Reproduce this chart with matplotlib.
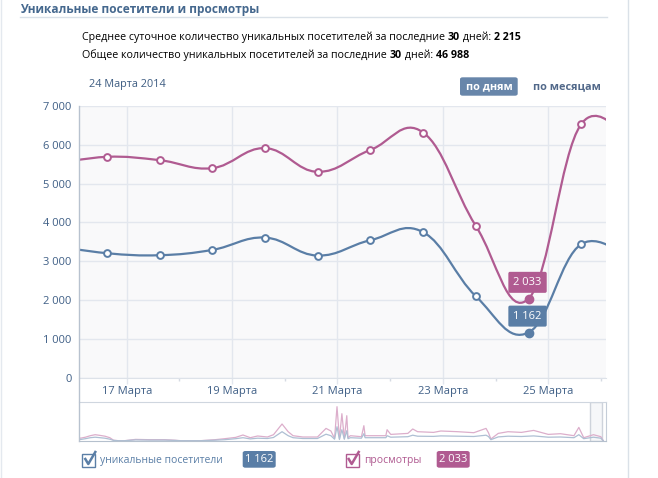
import matplotlib
matplotlib.use("Agg")
import matplotlib.pyplot as plt
from matplotlib.path import Path
from matplotlib.patches import PathPatch, Rectangle, FancyBboxPatch
from matplotlib.lines import Line2D

plt.rcParams['font.family'] = ['Open Sans', 'DejaVu Sans']

# daily points (March 2014), recorded at 15:00
days = [15, 16, 17, 18, 19, 20, 21, 22, 23, 24, 25, 26]
hour = 15
visitors = [3400, 3206, 3154, 3291, 3609, 3145, 3541, 3748, 2097, 1162, 3438, 2900]
views = [5500, 5690, 5604, 5398, 5914, 5303, 5868, 6317, 3910, 2033, 6533, 5800]
hover = 9  # 24 March

yticks = [0, 1000, 2000, 3000, 4000, 5000, 6000, 7000]
ytick_labels = ['0', '1 000', '2 000', '3 000', '4 000', '5 000', '6 000', '7 000']
xticks = [17, 19, 21, 23, 25]
xtick_labels = ['17 Марта', '19 Марта', '21 Марта', '23 Марта', '25 Марта']
view_range = (16.1, 26.09)

# overview (navigator) series, day index from the start of the history
nav_days = [0, 1, 5, 9, 13, 17, 21, 25, 28, 32, 37, 46, 58, 70, 78, 83,
            99, 111, 119, 128, 134, 140, 146, 154, 159, 166, 171, 175, 183, 195, 202, 206,
            209, 211, 213, 215, 217, 219, 220, 222, 231, 233, 234, 251, 252, 255, 269, 273,
            277, 290, 296, 310, 323, 333, 335, 337, 343, 351, 362, 372, 384, 394, 405, 409,
            413, 421, 427, 429]
nav_views = [3000, 2500, 3500, 5000, 6000, 5300, 4500, 3000, 500, 0, 0, 1300, 1000, 1000, 500, 0,
             0, 1000, 2000, 3300, 5700, 3000, 4700, 3700, 6000, 16700, 9000, 5000, 3700, 3700, 12300, 9700,
             2300, 34000, 2000, 27000, 2000, 25000, 3000, 5000, 4000, 15000, 5000, 5000, 11000, 6300, 7300, 11700,
             9000, 8300, 9700, 9000, 8000, 12300, 8000, 1700, 7300, 9000, 8300, 10300, 6300, 7000, 5000, 13300,
             3000, 6000, 4000, 0]
nav_visitors = [1500, 1200, 2000, 3000, 3500, 3000, 2500, 1500, 300, 0, 0, 800, 600, 600, 300, 0,
                0, 500, 1000, 2000, 3000, 1800, 2500, 2200, 3200, 9000, 5000, 3000, 2200, 2200, 6500, 5000,
                1500, 14000, 1200, 11000, 1500, 10000, 2000, 3000, 2500, 7000, 3000, 3000, 5000, 3500, 4000, 5500,
                4500, 4300, 4800, 4500, 4200, 5500, 4200, 1000, 3800, 4500, 4200, 4800, 3500, 3700, 3000, 6000,
                2000, 3500, 2500, 0]
nav_window = (418, 428)

avg_visitors = '2 215'
total_visitors = '46 988'

BLUE = '#5a7ea6'
PINK = '#b05b91'
LINK = '#45688e'
GRID = '#e3e7ee'

W, H = 658, 478


def fx(x):
    return x / W


def fy(y):
    return 1 - y / H


def spline_path(xs, ys, smoothing=1.5):
    n = len(xs)
    lc = list(zip(xs, ys))
    rc = list(zip(xs, ys))
    d = smoothing + 1
    for i in range(1, n - 1):
        px, py = xs[i], ys[i]
        lcx = (smoothing * px + xs[i - 1]) / d
        lcy = (smoothing * py + ys[i - 1]) / d
        rcx = (smoothing * px + xs[i + 1]) / d
        rcy = (smoothing * py + ys[i + 1]) / d
        corr = (rcy - lcy) * (rcx - px) / (rcx - lcx) + py - rcy
        lc[i] = (lcx, lcy + corr)
        rc[i] = (rcx, rcy + corr)
    verts = [(xs[0], ys[0])]
    codes = [Path.MOVETO]
    for i in range(1, n):
        verts += [rc[i - 1], lc[i], (xs[i], ys[i])]
        codes += [Path.CURVE4] * 3
    return Path(verts, codes)


fig = plt.figure(figsize=(6.58, 4.78), dpi=100)
r = fig.canvas.get_renderer()

# page borders and header
fig.add_artist(Line2D([fx(1), fx(1)], [0, 1], color='#e4e9ef', lw=1))
fig.add_artist(Line2D([fx(628), fx(628)], [0, 1], color='#dae1e8', lw=1))
fig.text(fx(20), fy(9), 'Уникальные посетители и просмотры', fontsize=8.6,
         fontweight='bold', color=LINK, va='center')
fig.add_artist(Line2D([fx(20), fx(607)], [fy(17), fy(17)], color='#dae1e8', lw=1))


def rich(x, y, parts, size=7.65):
    for s, w in parts:
        t = fig.text(fx(x), fy(y), s, fontsize=size, fontweight=w, va='center', color='black')
        x += t.get_window_extent(renderer=r).width


rich(82, 37, [('Среднее суточное количество уникальных посетителей за последние ', 'normal'),
              ('30', 'bold'), (' дней: ', 'normal'), (avg_visitors, 'bold')])
rich(82, 55, [('Общее количество уникальных посетителей за последние ', 'normal'),
              ('30', 'bold'), (' дней: ', 'normal'), (total_visitors, 'bold')])

fig.text(fx(89), fy(84), '24 Марта 2014', fontsize=7.8, color='#3e5d82', va='center')
fig.add_artist(FancyBboxPatch((fx(460), fy(95.7)), fx(57.7), 18.4 / H,
                              boxstyle='round,pad=0,rounding_size=0.004',
                              fc='#6886aa', ec='none', transform=fig.transFigure))
fig.text(fx(489), fy(86.5), 'по дням', fontsize=7.8, fontweight='bold', color='white',
         ha='center', va='center')
fig.text(fx(533), fy(86.5), 'по месяцам', fontsize=7.8, fontweight='bold', color='#52698a',
         va='center')

# main chart
ax = fig.add_axes([fx(79.3), fy(377.6), fx(605.7 - 79.3), (377.6 - 106) / H])
ax.set_facecolor('#f9f9fa')
xs = [d + hour / 24 for d in days]
for vals, col in [(views, PINK), (visitors, BLUE)]:
    ax.add_patch(PathPatch(spline_path(xs, vals), fc='none', ec=col, lw=1.6, zorder=3))
    mx = [x for i, x in enumerate(xs) if i != hover]
    my = [v for i, v in enumerate(vals) if i != hover]
    ax.plot(mx, my, 'o', ms=4.9, mfc='white', mec=col, mew=1.4, zorder=4, clip_on=True)
    ax.plot(xs[hover], vals[hover], 'o', ms=6, mfc=col, mec=col, mew=1, zorder=5)
    lab = f'{vals[hover]:,}'.replace(',', ' ')
    ax.annotate(lab, (xs[hover], vals[hover]), xytext=(-0.7, 11.8), textcoords='offset points',
                ha='center', va='center', fontsize=8, color='white', zorder=6,
                bbox=dict(boxstyle='round,pad=0.45,rounding_size=0.15', fc=col, ec='none'))

ax.set_xlim(*view_range)
ax.set_ylim(0, 7000)
ax.set_yticks(yticks)
ax.set_yticklabels(ytick_labels)
ax.set_xticks(xticks)
ax.set_xticklabels(xtick_labels)
ax.set_xticks([18, 20, 22, 24, 26], minor=True)
ax.grid(True, color=GRID, lw=1)
ax.set_axisbelow(True)
ax.tick_params(axis='y', length=0, pad=5.5, labelsize=8, labelcolor='#3f5f86')
ax.tick_params(axis='x', which='major', length=4.3, width=1, color=GRID, pad=2,
               labelsize=8, labelcolor='#3f5f86')
ax.tick_params(axis='x', which='minor', length=2.2, width=1, color='#d6dbe3')
for s in ['top', 'right', 'left']:
    ax.spines[s].set_visible(False)
ax.spines['bottom'].set_color('#dde2e9')

# left axis line running down through the navigator
fig.add_artist(Line2D([fx(79.3), fx(79.3)], [fy(106), fy(441)], color='#b8c2cf', lw=1))

# navigator
nav = fig.add_axes([fx(79.3), fy(440.7), fx(605.7 - 79.3), (440.7 - 402.3) / H])
nav.plot(nav_days, nav_views, color='#dcaecb', lw=0.9)
nav.plot(nav_days, nav_visitors, color='#aebfd3', lw=0.9)
nav.add_patch(Rectangle((nav_window[0], 0), nav_window[1] - nav_window[0], 38400,
                        fc='#eef1f5', ec='#a3adbb', lw=1, alpha=0.5, zorder=0))
nav.set_xlim(0, 431)
nav.set_ylim(0, 38400)
nav.set_xticks([])
nav.set_yticks([])
nav.spines['top'].set_color('#cfd6df')
nav.spines['bottom'].set_color('#b5c0cd')
nav.spines['left'].set_visible(False)
nav.spines['right'].set_color('#c5cdd8')

# legend


def legend_item(x, col, label, badge_x, value):
    fig.add_artist(Rectangle((fx(x), fy(466.7)), fx(13), 13 / H, fc='white', ec=col, lw=1,
                             transform=fig.transFigure))
    fig.add_artist(Line2D([fx(x + 3), fx(x + 6), fx(x + 13)], [fy(459), fy(464), fy(452)],
                          color=col, lw=1.8, transform=fig.transFigure))
    fig.text(fx(x + 18), fy(460), label, fontsize=7.5, color=col, va='center')
    fig.add_artist(FancyBboxPatch((fx(badge_x), fy(467.7)), fx(33), 16.7 / H,
                                  boxstyle='round,pad=0,rounding_size=0.004',
                                  fc=col, ec='none', transform=fig.transFigure))
    fig.text(fx(badge_x + 16.5), fy(459.5), value, fontsize=8, color='white',
             ha='center', va='center')


legend_item(82.3, BLUE, 'уникальные посетители', 242.7, '1 162')
legend_item(345.7, PINK, 'просмотры', 436.7, '2 033')

fig.savefig('out.png', dpi=100)
